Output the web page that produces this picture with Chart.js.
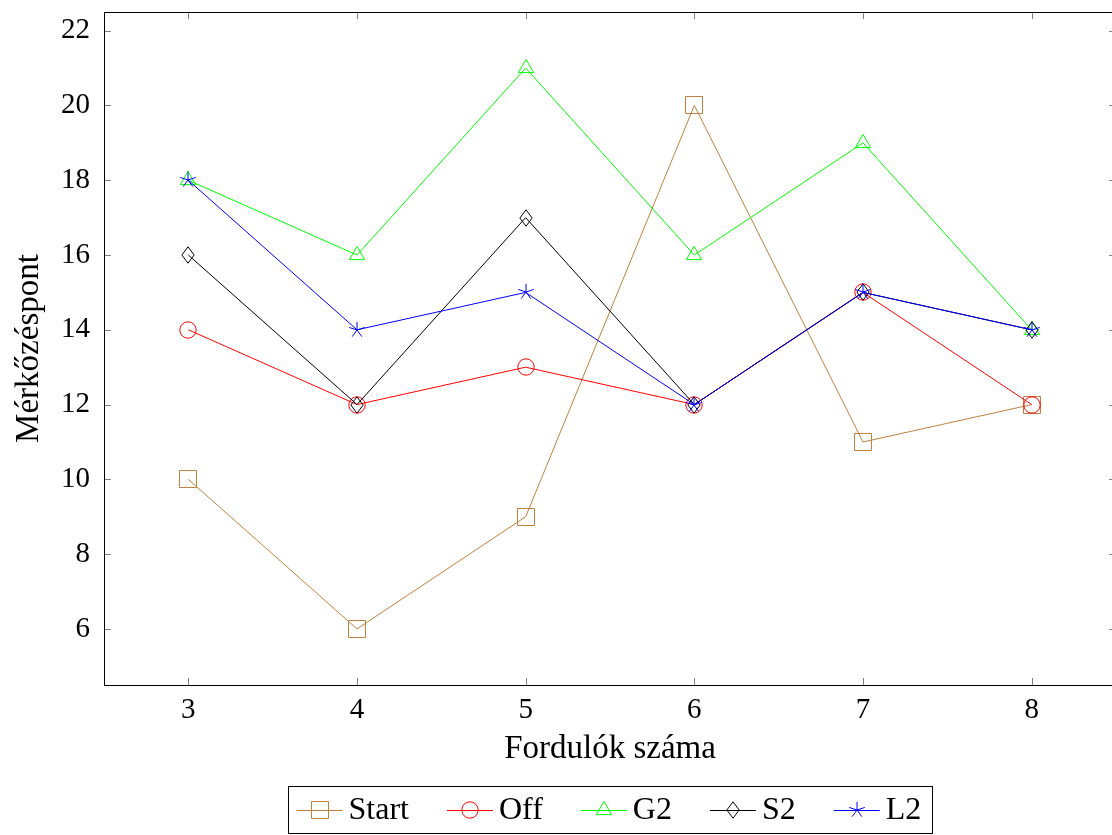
<!DOCTYPE html>
<html>
<head>
<meta charset="utf-8">
<script src="https://cdn.jsdelivr.net/npm/chart.js@4.4.1/dist/chart.umd.min.js"></script>
<style>
html, body { margin: 0; padding: 0; background: #fff; overflow: hidden; }
canvas { display: block; }
</style>
</head>
<body>
<canvas id="chart" width="1125" height="835"></canvas>
<script>
const rounds = ['3', '4', '5', '6', '7', '8'];
const startPts = [10, 6, 9, 20, 11, 12];
const offPts = [14, 12, 13, 12, 15, 12];
const g2Pts = [18, 16, 21, 16, 19, 14];
const s2Pts = [16, 12, 17, 12, 15, 14];
const l2Pts = [18, 14, 15, 12, 15, 14];
const yTicks = [6, 8, 10, 12, 14, 16, 18, 20, 22];

const serif = "'Liberation Serif', 'DejaVu Serif', serif";
const brown = 'rgb(191,128,64)';

// open marks drawn on little canvases, used as pointStyle images
function makeMark(shape, color) {
  const c = document.createElement('canvas');
  c.width = 24; c.height = 24;
  const g = c.getContext('2d');
  g.translate(12, 12);
  g.strokeStyle = color;
  g.lineWidth = 1;
  const r = 8.2;
  g.beginPath();
  if (shape === 'square') {
    g.rect(-8.5, -8.5, 17, 17);
  } else if (shape === 'circle') {
    g.arc(0, 0, r, 0, Math.PI * 2);
  } else if (shape === 'triangle') {
    g.moveTo(0, -r - 0.5);
    g.lineTo(r * 0.866 + 0.5, r * 0.5 + 0.5);
    g.lineTo(-r * 0.866 - 0.5, r * 0.5 + 0.5);
    g.closePath();
  } else if (shape === 'diamond') {
    g.moveTo(0, -r);
    g.lineTo(r * 0.75, 0);
    g.lineTo(0, r);
    g.lineTo(-r * 0.75, 0);
    g.closePath();
  } else if (shape === 'star') {
    for (let i = 0; i < 5; i++) {
      const a = -Math.PI / 2 + i * 2 * Math.PI / 5;
      g.moveTo(0, 0);
      g.lineTo(Math.cos(a) * r, Math.sin(a) * r);
    }
  }
  g.stroke();
  return c;
}

function series(label, data, color, shape, order) {
  return {
    label: label,
    data: data,
    borderColor: color,
    backgroundColor: color,
    borderWidth: 1,
    tension: 0,
    pointStyle: makeMark(shape, color),
    pointRadius: 8,
    order: order
  };
}

// axis box with short ticks pointing inwards
const framePlugin = {
  id: 'frame',
  beforeDatasetsDraw(chart) {
    const ctx = chart.ctx;
    const { left, right, top, bottom } = chart.chartArea;
    const xs = chart.scales.x, ys = chart.scales.y;
    ctx.save();
    ctx.lineWidth = 1;
    ctx.strokeStyle = '#808080';
    ctx.beginPath();
    yTicks.forEach(v => {
      const py = Math.round(ys.getPixelForValue(v)) + 0.5;
      ctx.moveTo(left, py); ctx.lineTo(left + 7, py);
      ctx.moveTo(right - 7, py); ctx.lineTo(right, py);
    });
    rounds.forEach((r, i) => {
      const px = Math.round(xs.getPixelForValue(i)) + 0.5;
      ctx.moveTo(px, bottom); ctx.lineTo(px, bottom - 7);
      ctx.moveTo(px, top); ctx.lineTo(px, top + 7);
    });
    ctx.stroke();
    ctx.strokeStyle = '#000';
    ctx.strokeRect(Math.round(left) + 0.5, Math.round(top) + 0.5,
      Math.round(right - left), Math.round(bottom - top));
    ctx.restore();
    // keep the mark images sharp
    ctx.imageSmoothingEnabled = false;
  },
  afterDatasetsDraw(chart) {
    chart.ctx.imageSmoothingEnabled = true;
  }
};

// boxed legend below the axis title, line sample with the mark on it
const legendPlugin = {
  id: 'boxLegend',
  afterDraw(chart) {
    const ctx = chart.ctx;
    ctx.save();
    ctx.font = '32px ' + serif;
    const items = chart.data.datasets.map(ds => ({
      label: ds.label, color: ds.borderColor, mark: ds.pointStyle,
      w: ctx.measureText(ds.label).width
    }));
    const sample = 46, gapText = 6, gapItem = 38, padL = 8, padR = 11;
    let total = padL + padR;
    items.forEach((it, i) => { total += sample + gapText + it.w + (i ? gapItem : 0); });
    const cx = (chart.chartArea.left + chart.chartArea.right) / 2;
    const x0 = Math.round(cx - total / 2) + 0.5;
    const top = 786.5, h = 47, mid = Math.round(top + h / 2);
    ctx.lineWidth = 1;
    ctx.strokeStyle = '#000';
    ctx.strokeRect(x0, top, Math.round(total), h);
    let x = x0 + padL;
    ctx.textBaseline = 'middle';
    ctx.textAlign = 'left';
    items.forEach((it, i) => {
      if (i) x += gapItem;
      ctx.strokeStyle = it.color;
      ctx.beginPath();
      ctx.moveTo(x, mid + 0.5);
      ctx.lineTo(x + sample, mid + 0.5);
      ctx.stroke();
      ctx.drawImage(it.mark, Math.round(x + sample / 2) - 12, mid - 12);
      x += sample + gapText;
      ctx.fillStyle = '#000';
      ctx.fillText(it.label, x, mid + 1);
      x += it.w;
    });
    ctx.restore();
  }
};

new Chart(document.getElementById('chart'), {
  type: 'line',
  data: {
    labels: rounds,
    datasets: [
      series('Start', startPts, brown, 'square', 4),
      series('Off', offPts, 'rgb(255,0,0)', 'circle', 3),
      series('G2', g2Pts, 'rgb(0,255,0)', 'triangle', 2),
      series('S2', s2Pts, 'rgb(0,0,0)', 'diamond', 1),
      series('L2', l2Pts, 'rgb(0,0,255)', 'star', 0)
    ]
  },
  options: {
    responsive: false,
    devicePixelRatio: 1,
    animation: false,
    events: [],
    layout: { padding: { top: 12, left: 0, right: 6.4, bottom: 0 } },
    plugins: {
      legend: { display: false },
      tooltip: { enabled: false }
    },
    scales: {
      x: {
        type: 'category',
        offset: true,
        grid: { display: false, drawTicks: false },
        border: { display: false },
        ticks: { color: '#000', padding: 8, font: { family: serif, size: 29 }, maxRotation: 0 },
        title: {
          display: true, text: 'Fordulók száma', color: '#000',
          font: { family: serif, size: 33 }, padding: { top: 0, bottom: 66 }
        },
        afterFit(scale) {
          scale.height = 150;
          scale.paddingLeft = 0;
          scale.paddingRight = 0;
        }
      },
      y: {
        min: 4.5,
        max: 22.5,
        grid: { display: false, drawTicks: false },
        border: { display: false },
        afterBuildTicks(scale) { scale.ticks = yTicks.map(v => ({ value: v })); },
        ticks: { color: '#000', padding: 14, font: { family: serif, size: 29 } },
        title: {
          display: true, text: 'Mérkőzéspont', color: '#000',
          font: { family: serif, size: 33 }, padding: { top: 10, bottom: 0 }
        },
        afterFit(scale) {
          scale.width = 104;
          scale.paddingTop = 0;
          scale.paddingBottom = 0;
        }
      }
    }
  },
  plugins: [framePlugin, legendPlugin]
});
</script>
</body>
</html>
